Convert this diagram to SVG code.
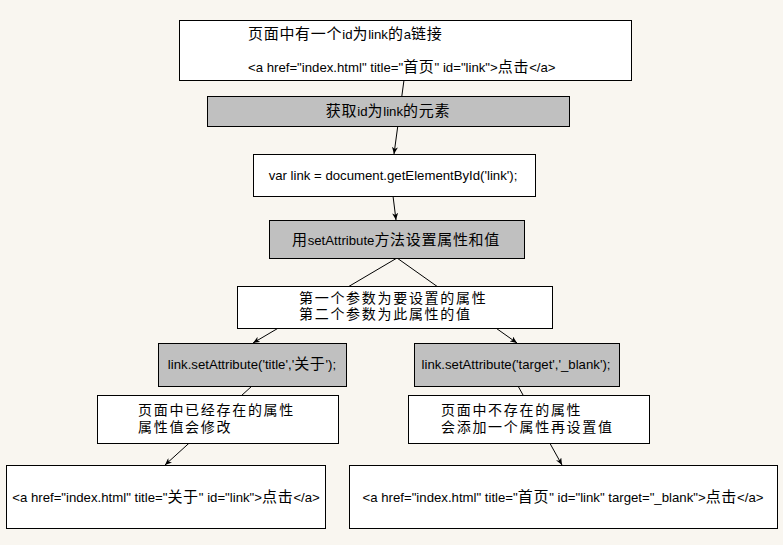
<svg xmlns="http://www.w3.org/2000/svg" width="783" height="545" viewBox="0 0 783 545">
<style>
.b{fill:#ffffff;stroke:#000;stroke-width:1}
.g{fill:#c0c0c0;stroke:#000;stroke-width:1}
text{font-family:"Liberation Sans","Noto Sans CJK SC",sans-serif;font-size:13.2px;fill:#000}
.c{font-family:"Noto Sans CJK SC",sans-serif;font-size:15px;letter-spacing:0.7px}
.t{font-family:"Noto Sans CJK SC",sans-serif;font-size:14px;letter-spacing:1.7px}
.m{text-anchor:middle}
.e{stroke:#000;stroke-width:1;fill:none}
</style>
<defs>
<marker id="ah" markerWidth="8" markerHeight="6" refX="7" refY="3" orient="auto" markerUnits="userSpaceOnUse">
<path d="M0,0 L7,3 L0,6 L2,3 z" fill="#000"/>
</marker>
</defs>
<rect width="783" height="545" fill="#f9f6f0"/>
<g id="connectors">
<line class="e" x1="404" y1="80" x2="394" y2="154" marker-end="url(#ah)"/>
<line class="e" x1="393" y1="196" x2="396" y2="220" marker-end="url(#ah)"/>
<line class="e" x1="397" y1="258" x2="253" y2="343" marker-end="url(#ah)"/>
<line class="e" x1="397" y1="258" x2="517" y2="343" marker-end="url(#ah)"/>
<line class="e" x1="252" y1="386" x2="165" y2="465" marker-end="url(#ah)"/>
<line class="e" x1="518" y1="386" x2="562" y2="465" marker-end="url(#ah)"/>
</g>
<g id="n1">
<rect class="b" x="179.5" y="20.5" width="452" height="60"/>
<text x="248" y="39"><tspan class="c">页面中有一个</tspan>id<tspan class="c">为</tspan>link<tspan class="c">的</tspan>a<tspan class="c">链接</tspan></text>
<text x="248" y="72">&lt;a href="index.html" title="<tspan class="c">首页</tspan>" id="link"&gt;<tspan class="c">点击</tspan>&lt;/a&gt;</text>
</g>
<g id="n2">
<rect class="g" x="207.5" y="96.5" width="362" height="30"/>
<text class="m" x="388" y="116"><tspan class="c">获取</tspan>id<tspan class="c">为</tspan>link<tspan class="c">的元素</tspan></text>
</g>
<g id="n3">
<rect class="b" x="253.5" y="154.5" width="282" height="42"/>
<text class="m" x="393" y="180">var link = document.getElementById('link');</text>
</g>
<g id="n4">
<rect class="g" x="269.5" y="220.5" width="255" height="38"/>
<text class="m" x="396" y="245"><tspan class="c">用</tspan>setAttribute<tspan class="c">方法设置属性和值</tspan></text>
</g>
<g id="n5">
<rect class="b" x="237.5" y="286.5" width="315" height="42"/>
<text x="299" y="303" class="t">第一个参数为要设置的属性</text>
<text x="299" y="319" class="t">第二个参数为此属性的值</text>
</g>
<g id="n6">
<rect class="g" x="158.5" y="343.5" width="188" height="43"/>
<text class="m" x="252" y="369">link.setAttribute('title','<tspan class="c">关于</tspan>');</text>
</g>
<g id="n7">
<rect class="g" x="414.5" y="343.5" width="205" height="43"/>
<text class="m" x="516" y="369">link.setAttribute('target','_blank');</text>
</g>
<g id="n8">
<rect class="b" x="97.5" y="395.5" width="241" height="48"/>
<text x="138" y="415" class="t">页面中已经存在的属性</text>
<text x="138" y="432" class="t">属性值会修改</text>
</g>
<g id="n9">
<rect class="b" x="408.5" y="395.5" width="241" height="48"/>
<text x="441" y="415" class="t">页面中不存在的属性</text>
<text x="441" y="432" class="t">会添加一个属性再设置值</text>
</g>
<g id="n10">
<rect class="b" x="6.5" y="465.5" width="319" height="63"/>
<text class="m" x="166" y="502">&lt;a href="index.html" title="<tspan class="c">关于</tspan>" id="link"&gt;<tspan class="c">点击</tspan>&lt;/a&gt;</text>
</g>
<g id="n11">
<rect class="b" x="349.5" y="465.5" width="428" height="63"/>
<text class="m" x="563" y="502">&lt;a href="index.html" title="<tspan class="c">首页</tspan>" id="link" target="_blank"&gt;<tspan class="c">点击</tspan>&lt;/a&gt;</text>
</g>
</svg>
